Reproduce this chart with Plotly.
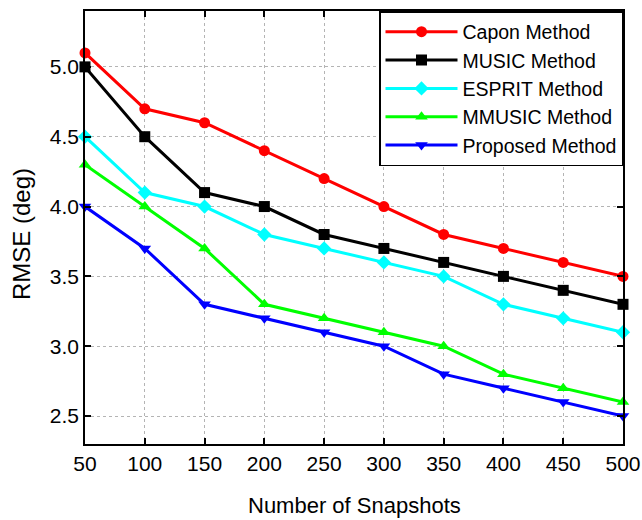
import plotly.graph_objects as go

snapshots = [50, 100, 150, 200, 250, 300, 350, 400, 450, 500]
capon = [5.1, 4.7, 4.6, 4.4, 4.2, 4.0, 3.8, 3.7, 3.6, 3.5]
music = [5.0, 4.5, 4.1, 4.0, 3.8, 3.7, 3.6, 3.5, 3.4, 3.3]
esprit = [4.5, 4.1, 4.0, 3.8, 3.7, 3.6, 3.5, 3.3, 3.2, 3.1]
mmusic = [4.3, 4.0, 3.7, 3.3, 3.2, 3.1, 3.0, 2.8, 2.7, 2.6]
proposed = [4.0, 3.7, 3.3, 3.2, 3.1, 3.0, 2.8, 2.7, 2.6, 2.5]
y_ticks = [2.5, 3.0, 3.5, 4.0, 4.5, 5.0]

series = [
    ("Capon Method", capon, "#FF0000", "circle"),
    ("MUSIC Method", music, "#000000", "square"),
    ("ESPRIT Method", esprit, "#00FFFF", "diamond"),
    ("MMUSIC Method", mmusic, "#00FF00", "triangle-up"),
    ("Proposed Method", proposed, "#0000FF", "triangle-down"),
]

FONT = "Liberation Sans, Arial, sans-serif"

fig = go.Figure()
for name, vals, color, sym in series:
    fig.add_trace(go.Scatter(
        x=snapshots, y=vals, name=name, mode="lines+markers",
        line=dict(color=color, width=3),
        marker=dict(symbol=sym, size=11, color=color, line=dict(width=0)),
        cliponaxis=False,
    ))

axis_common = dict(
    showline=True, linecolor="black", linewidth=1.5, mirror="ticks",
    ticks="inside", ticklen=6, tickwidth=1.5, tickcolor="black",
    showgrid=True, gridcolor="#b4b4b4", gridwidth=1, griddash="dot",
    zeroline=False, automargin=False,
    tickfont=dict(family=FONT, size=21, color="black"),
)

fig.update_layout(
    width=642, height=520,
    margin=dict(l=85, r=19, t=11, b=76),
    paper_bgcolor="white", plot_bgcolor="white",
    font=dict(family=FONT, color="black"),
    xaxis=dict(
        range=[50, 500], tickvals=snapshots, ticktext=[str(v) for v in snapshots],
        **axis_common,
    ),
    yaxis=dict(
        range=[2.3, 5.4], tickvals=y_ticks,
        ticktext=[f"{v:.1f}" for v in y_ticks],
        **axis_common,
    ),
    legend=dict(
        x=1, y=1, xanchor="right", yanchor="top",
        bgcolor="white", bordercolor="black", borderwidth=1.5,
        font=dict(family=FONT, size=19.5, color="black"),
        tracegroupgap=0, itemwidth=72,
    ),
    showlegend=True,
)

fig.add_annotation(
    text="Number of Snapshots", xref="paper", yref="paper", x=0.5, y=0,
    xanchor="center", yanchor="middle", yshift=-61, showarrow=False,
    font=dict(family=FONT, size=22, color="black"),
)
fig.add_annotation(
    text="RMSE (deg)", xref="paper", yref="paper", x=0, y=0.485,
    xanchor="center", yanchor="middle", xshift=-63, textangle=-90, showarrow=False,
    font=dict(family=FONT, size=24, color="black"),
)

fig.write_html("out.html")
